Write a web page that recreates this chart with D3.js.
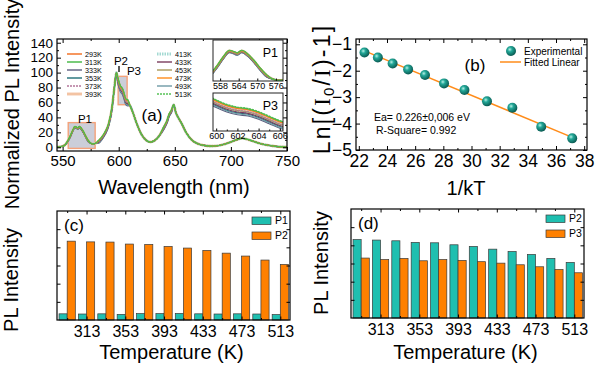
<!DOCTYPE html>
<html><head><meta charset="utf-8">
<script src="https://cdn.jsdelivr.net/npm/d3@7"></script>
<style>
body{margin:0;background:#fff}
svg{display:block}
text{font-family:"Liberation Sans",Arial,sans-serif;fill:#000}
</style>
</head><body>
<svg id="chart" width="600" height="368"></svg>
<script>
// ---------------- DATA ----------------
// Panel (a): normalized PL spectra
const wavelengths = [545,549,552,555,557,559,561,562.5,563.5,565,567,569,571,573,575,577,579,582,585,588,591,594,596,598,599,600,601,602,603,604,605,606,607,608,610,613,616,620,624,628,632,636,640,643,645,647,649,651,653,656,660,665,670,676,682,688,694,700,705,710,715,720,726,732,740,750];
const s293 = [0.3,1,3, 9.8,15.8,22.8,27.8,26.8,25.8,27.8,24.8,19.8,13.8,8.8, 5.5,4.5,5, 8.5,13.5,20.5,31.5,53.5, 78,100, 94,88,83,80,78.5,75,70,65,63,62.5, 56,45,32,18,10,7,9,15, 26.5,35.5,44.5,49.5, 57,46,40,32,20,10,5,2.5,1.5,2,4,7,10,12,10.5,8,5,3,1.2,0.3];
const s313 = [0.3,1,3, 10,16,23,28,27,26,28,25,20,14,9, 5.5,4.5,5, 9,14,21,32,54, 78,100, 95,89,84,81,79.5,76,71,66,64,63.5, 56,45,32,18,10,7,9,15, 27,36,45,50, 57,46,40,32,20,10,5,2.5,1.5,2,4,7,10,12,10.5,8,5,3,1.2,0.3];
const s333 = [0.3,1,3, 8,14,21,26,25,24,26,23,18,12,7, 5.5,4.5,5, 5,10,17,28,50, 78,100, 87,81,76,73,71.5,68,63,58,56,55.5, 56,45,32,18,10,7,9,15, 23,32,41,46, 57,46,40,32,20,10,5,2.5,1.5,2,4,7,10,12,10.5,8,5,3,1.2,0.3];
const s353 = [0.3,1,3, 8.5,14.5,21.5,26.5,25.5,24.5,26.5,23.5,18.5,12.5,7.5, 5.5,4.5,5, 6,11,18,29,51, 78,100, 89,83,78,75,73.5,70,65,60,58,57.5, 56,45,32,18,10,7,9,15, 24,33,42,47, 57,46,40,32,20,10,5,2.5,1.5,2,4,7,10,12,10.5,8,5,3,1.2,0.3];
const s373 = [0.3,1,3, 9.3,15.3,22.3,27.3,26.3,25.3,27.3,24.3,19.3,13.3,8.3, 5.5,4.5,5, 7.5,12.5,19.5,30.5,52.5, 78,100, 92,86,81,78,76.5,73,68,63,61,60.5, 56,45,32,18,10,7,9,15, 25.5,34.5,43.5,48.5, 57,46,40,32,20,10,5,2.5,1.5,2,4,7,10,12,10.5,8,5,3,1.2,0.3];
const s393 = [0.3,1,3, 9.5,15.5,22.5,27.5,26.5,25.5,27.5,24.5,19.5,13.5,8.5, 5.5,4.5,5, 8,13,20,31,53, 78,100, 93,87,82,79,77.5,74,69,64,62,61.5, 56,45,32,18,10,7,9,15, 26,35,44,49, 57,46,40,32,20,10,5,2.5,1.5,2,4,7,10,12,10.5,8,5,3,1.2,0.3];
const s413 = [0.3,1,3, 9,15,22,27,26,25,27,24,19,13,8, 5.5,4.5,5, 7,12,19,30,52, 78,100, 91,85,80,77,75.5,72,67,62,60,59.5, 56,45,32,18,10,7,9,15, 25,34,43,48, 57,46,40,32,20,10,5,2.5,1.5,2,4,7,10,12,10.5,8,5,3,1.2,0.3];
const s433 = [0.3,1,3, 8.7,14.7,21.7,26.7,25.7,24.7,26.7,23.7,18.7,12.7,7.7, 5.5,4.5,5, 6.5,11.5,18.5,29.5,51.5, 78,100, 90,84,79,76,74.5,71,66,61,59,58.5, 56,45,32,18,10,7,9,15, 24.5,33.5,42.5,47.5, 57,46,40,32,20,10,5,2.5,1.5,2,4,7,10,12,10.5,8,5,3,1.2,0.3];
const s453 = [0.3,1,3, 8.8,14.8,21.8,26.8,25.8,24.8,26.8,23.8,18.8,12.8,7.8, 5.5,4.5,5, 7.5,12.5,19.5,30.5,52.5, 78,100, 91.5,85.5,80.5,77.5,76,72.5,67.5,62.5,60.5,60, 56,45,32,18,10,7,9,15, 25.5,34.5,43.5,48.5, 57,46,40,32,20,10,5,2.5,1.5,2,4,7,10,12,10.5,8,5,3,1.2,0.3];
const s473 = [0.3,1,3, 9.6,15.6,22.6,27.6,26.6,25.6,27.6,24.6,19.6,13.6,8.6, 5.5,4.5,5, 8.5,13.5,20.5,31.5,53.5, 78,100, 94.5,88.5,83.5,80.5,79,75.5,70.5,65.5,63.5,63, 56,45,32,18,10,7,9,15, 26.5,35.5,44.5,49.5, 57,46,40,32,20,10,5,2.5,1.5,2,4,7,10,12,10.5,8,5,3,1.2,0.3];
const s493 = [0.3,1,3, 8.2,14.2,21.2,26.2,25.2,24.2,26.2,23.2,18.2,12.2,7.2, 5.5,4.5,5, 5.5,10.5,17.5,28.5,50.5, 78,100, 88,82,77,74,72.5,69,64,59,57,56.5, 56,45,32,18,10,7,9,15, 23.5,32.5,41.5,46.5, 57,46,40,32,20,10,5,2.5,1.5,2,4,7,10,12,10.5,8,5,3,1.2,0.3];
const s513 = [0.3,1,3, 9.9,15.9,22.9,27.9,26.9,25.9,27.9,24.9,19.9,13.9,8.9, 5.5,4.5,5, 9,14,21,32,54, 78,100, 95.5,89.5,84.5,81.5,80,76.5,71.5,66.5,64.5,64, 56,45,32,18,10,7,9,15, 27,36,45,50, 57,46,40,32,20,10,5,2.5,1.5,2,4,7,10,12,10.5,8,5,3,1.2,0.3];
const seriesLabels = ["293K","313K","333K","353K","373K","393K","413K","433K","453K","473K","493K","513K"];
const spectra = [s293,s313,s333,s353,s373,s393,s413,s433,s453,s473,s493,s513];
const xTicksA = [550,600,650,700,750];
const yTicksA = [0,20,40,60,80,100,120,140];
const insetP1Ticks = [558,564,570,576];
const insetP3Ticks = [600,602,604,606];

// Panel (b): Arrhenius plot
const invKT = [22.4,23.35,24.4,25.5,26.7,28.05,29.5,31.1,32.9,34.95,37.15];
const lnRatio = [-1.31,-1.5,-1.73,-1.95,-2.16,-2.48,-2.73,-3.16,-3.4,-4.12,-4.56];
const fitX = [22.4,37.2];
const fitY = [-1.25,-4.53];
const xTicksB = [22,24,26,28,30,32,34,36,38];
const yTicksB = [-1,-2,-3,-4,-5];

// Panels (c),(d): integrated PL intensity vs temperature
const temperatures = [293,313,333,353,373,393,413,433,453,473,493,513];
const tempTickLabels = [313,353,393,433,473,513];
const intP1 = [0.34,0.33,0.34,0.31,0.35,0.35,0.36,0.34,0.33,0.34,0.33,0.30];
const intP2c = [4.34,4.30,4.29,4.18,4.16,4.05,3.96,3.83,3.68,3.52,3.30,3.06];
const intP2d = [4.32,4.29,4.25,4.16,4.14,4.03,3.94,3.79,3.66,3.50,3.28,3.06];
const intP3 = [3.30,3.22,3.28,3.15,3.22,3.17,3.10,3.02,2.93,2.82,2.67,2.49];

// ---------------- STYLE ----------------
const seriesStyle = [
  {c:"#f26a1b",w:1.1,d:null},
  {c:"#4cbb4c",w:1.2,d:null},
  {c:"#5c5c7e",w:1.1,d:null},
  {c:"#1f6f78",w:1.1,d:null},
  {c:"#b4769a",w:1.1,d:"2,1"},
  {c:"#f3c3a3",w:2.6,d:null},
  {c:"#a3d9d2",w:2.6,d:"1.5,1"},
  {c:"#7a3b5c",w:1.1,d:null},
  {c:"#a8985a",w:1.1,d:null},
  {c:"#ff8c1a",w:1.1,d:null},
  {c:"#6e9aa5",w:1.1,d:null},
  {c:"#57c257",w:1.2,d:"2,1"}
];
const drawOrder = [5,6,2,3,10,7,8,4,0,9,11,1];
const CYAN = "#1fbfb0", ORANGE = "#ff8000";

const svg = d3.select("#chart");
const defs = svg.append("defs");

function styleAxis(g, fs){
  g.select(".domain").remove();
  g.selectAll(".tick line").attr("stroke","#000").attr("stroke-width",1);
  g.selectAll(".tick text").attr("font-size",fs).attr("fill","#000")
    .style("font-family",'"Liberation Sans",Arial,sans-serif');
}
// draws mirrored inward ticks on the four sides of a frame
function frameAxes(g, xs, ys, o){
  const [x0,x1] = xs.range(), [y0,y1] = ys.range(); // y0 bottom, y1 top
  g.append("g").attr("transform",`translate(0,${y0})`)
    .call(d3.axisBottom(xs).tickValues(o.xMajor).tickSizeInner(-o.L).tickSizeOuter(0).tickPadding(o.xPad).tickFormat(o.xFmt||d3.format("d")))
    .call(a=>styleAxis(a,o.xFs));
  if(o.xMinor) g.append("g").attr("transform",`translate(0,${y0})`)
    .call(d3.axisBottom(xs).tickValues(o.xMinor).tickSizeInner(-o.l).tickSizeOuter(0).tickFormat(""))
    .call(a=>styleAxis(a,o.xFs));
  g.append("g").attr("transform",`translate(0,${y1})`)
    .call(d3.axisTop(xs).tickValues(o.xMajor).tickSizeInner(-o.L).tickSizeOuter(0).tickFormat(""))
    .call(a=>styleAxis(a,o.xFs));
  if(o.xMinor) g.append("g").attr("transform",`translate(0,${y1})`)
    .call(d3.axisTop(xs).tickValues(o.xMinor).tickSizeInner(-o.l).tickSizeOuter(0).tickFormat(""))
    .call(a=>styleAxis(a,o.xFs));
  const la = d3.axisLeft(ys).tickValues(o.yMajor).tickSizeInner(-o.L).tickSizeOuter(0).tickPadding(o.yPad);
  if(o.yFmt) la.tickFormat(o.yFmt);
  g.append("g").attr("transform",`translate(${x0},0)`).call(la).call(a=>styleAxis(a,o.yFs));
  if(o.yMinor) g.append("g").attr("transform",`translate(${x0},0)`)
    .call(d3.axisLeft(ys).tickValues(o.yMinor).tickSizeInner(-o.l).tickSizeOuter(0).tickFormat(""))
    .call(a=>styleAxis(a,o.yFs));
  g.append("g").attr("transform",`translate(${x1},0)`)
    .call(d3.axisRight(ys).tickValues(o.yMajor).tickSizeInner(-o.L).tickSizeOuter(0).tickFormat(""))
    .call(a=>styleAxis(a,o.yFs));
  if(o.yMinor) g.append("g").attr("transform",`translate(${x1},0)`)
    .call(d3.axisRight(ys).tickValues(o.yMinor).tickSizeInner(-o.l).tickSizeOuter(0).tickFormat(""))
    .call(a=>styleAxis(a,o.yFs));
  g.append("rect").attr("x",x0).attr("y",y1).attr("width",x1-x0).attr("height",y0-y1)
    .attr("fill","none").attr("stroke","#000").attr("stroke-width",1.2);
}
function rotLabel(x,y,txt,fs){
  return svg.append("text").attr("transform",`translate(${x},${y}) rotate(-90)`)
    .attr("text-anchor","middle").attr("font-size",fs).text(txt);
}

// ================= PANEL (a) =================
const xA = d3.scaleLinear([545,750],[57,287]);
const yA = d3.scaleLinear([-5,145],[151,39]);
const gA = svg.append("g");
defs.append("clipPath").attr("id","clipA").append("rect")
  .attr("x",57).attr("y",39).attr("width",230).attr("height",112);

gA.append("rect").attr("x",xA(555)).attr("y",yA(33)).attr("width",xA(579)-xA(555)).attr("height",yA(-1.5)-yA(33))
  .attr("fill","#b9bdcc").attr("fill-opacity",0.75).attr("stroke","#f4a27a").attr("stroke-width",1.4);
gA.append("rect").attr("x",xA(599.5)).attr("y",yA(95)).attr("width",xA(607.5)-xA(599.5)).attr("height",yA(57)-yA(95))
  .attr("fill","#b9bdcc").attr("fill-opacity",0.75).attr("stroke","#f4a27a").attr("stroke-width",1.4);

function drawSpectra(g, xs, ys, clip){
  const line = d3.line().x((d,i)=>xs(wavelengths[i])).y(d=>ys(d)).curve(d3.curveMonotoneX);
  const cg = g.append("g").attr("clip-path",`url(#${clip})`);
  drawOrder.forEach(k=>{
    const st = seriesStyle[k];
    cg.append("path").attr("d",line(spectra[k])).attr("fill","none")
      .attr("stroke",st.c).attr("stroke-width",st.w).attr("stroke-dasharray",st.d);
  });
}
drawSpectra(gA, xA, yA, "clipA");

frameAxes(gA, xA, yA, {xMajor:xTicksA, xMinor:[575,625,675,725], yMajor:yTicksA, yMinor:[10,30,50,70,90,110,130],
  L:4, l:2, xPad:4, yPad:4, xFs:15, yFs:13.5});

// legend (a)
seriesLabels.forEach((lab,i)=>{
  const col = Math.floor(i/6), row = i%6;
  const lx = col===0?67:157, ty = 54 + row*8;
  const st = seriesStyle[i];
  gA.append("line").attr("x1",lx).attr("x2",lx+15).attr("y1",ty).attr("y2",ty)
    .attr("stroke",st.c).attr("stroke-width",st.w+0.3).attr("stroke-dasharray",st.d);
  gA.append("text").attr("x",lx+18).attr("y",ty+2.6).attr("font-size",7.2).text(lab);
});
gA.append("text").attr("x",85).attr("y",123).attr("text-anchor","middle").attr("font-size",11.5).text("P1");
gA.append("text").attr("x",121).attr("y",65).attr("text-anchor","middle").attr("font-size",11.5).text("P2");
gA.append("line").attr("x1",119).attr("x2",119).attr("y1",66).attr("y2",72).attr("stroke","#000").attr("stroke-width",1.3);
gA.append("text").attr("x",134).attr("y",75).attr("text-anchor","middle").attr("font-size",11.5).text("P3");
gA.append("text").attr("x",152).attr("y",121).attr("text-anchor","middle").attr("font-size",17).text("(a)");

// insets
function inset(id, xd, yd, box, ticks, minors, label, labY){
  const xs = d3.scaleLinear(xd,[box[0],box[1]]);
  const ys = d3.scaleLinear(yd,[box[3],box[2]]);
  const g = svg.append("g");
  g.append("rect").attr("x",box[0]).attr("y",box[2]).attr("width",box[1]-box[0]).attr("height",box[3]-box[2]).attr("fill","#fff");
  defs.append("clipPath").attr("id",id).append("rect")
    .attr("x",box[0]).attr("y",box[2]).attr("width",box[1]-box[0]).attr("height",box[3]-box[2]);
  drawSpectra(g, xs, ys, id);
  g.append("g").attr("transform",`translate(0,${box[3]})`)
    .call(d3.axisBottom(xs).tickValues(ticks).tickSizeInner(-2.5).tickSizeOuter(0).tickPadding(1.5).tickFormat(d3.format("d")))
    .call(a=>styleAxis(a,9));
  if(minors) g.append("g").attr("transform",`translate(0,${box[3]})`)
    .call(d3.axisBottom(xs).tickValues(minors).tickSizeInner(-1.5).tickSizeOuter(0).tickFormat(""))
    .call(a=>styleAxis(a,9));
  g.append("rect").attr("x",box[0]).attr("y",box[2]).attr("width",box[1]-box[0]).attr("height",box[3]-box[2])
    .attr("fill","none").attr("stroke","#222").attr("stroke-width",1);
  g.append("text").attr("x",box[1]-5).attr("y",labY).attr("text-anchor","end").attr("font-size",12.5).text(label);
}
inset("clipP1",[555.7,578.3],[4,36],[213,283,40,81],insetP1Ticks,null,"P1",57);
inset("clipP3",[599.7,606.3],[55,97],[213,283,93,131],insetP3Ticks,[601,603,605],"P3",110);

rotLabel(19,104,"Normalized PL Intensity",20);
svg.append("text").attr("x",174).attr("y",194).attr("text-anchor","middle").attr("font-size",20).text("Wavelength (nm)");

// ================= PANEL (b) =================
const xB = d3.scaleLinear([21.8,38.2],[356,587]);
const yB = d3.scaleLinear([-5,-0.8],[150,39]);
const gB = svg.append("g");
const grad = defs.append("radialGradient").attr("id","ball").attr("cx","38%").attr("cy","35%").attr("r","65%");
grad.append("stop").attr("offset","0%").attr("stop-color","#b8f0e6");
grad.append("stop").attr("offset","35%").attr("stop-color","#22a898");
grad.append("stop").attr("offset","100%").attr("stop-color","#0a5a52");

frameAxes(gB, xB, yB, {xMajor:xTicksB, xMinor:[23,25,27,29,31,33,35,37], yMajor:yTicksB, yMinor:[-1.5,-2.5,-3.5,-4.5],
  L:4, l:2, xPad:5, yPad:4, xFs:17.5, yFs:17.5, yFmt:d3.format("d")});
gB.append("path").attr("d",d3.line().x(d=>xB(d[0])).y(d=>yB(d[1]))(fitX.map((x,i)=>[x,fitY[i]])))
  .attr("stroke","#ff8c1a").attr("stroke-width",1.5).attr("fill","none");
gB.selectAll("circle.pt").data(invKT).join("circle").attr("class","pt")
  .attr("cx",d=>xB(d)).attr("cy",(d,i)=>yB(lnRatio[i])).attr("r",5).attr("fill","url(#ball)");
// legend (b)
gB.append("circle").attr("cx",511).attr("cy",51).attr("r",5).attr("fill","url(#ball)");
gB.append("text").attr("x",524).attr("y",55).attr("font-size",10).text("Experimental");
gB.append("line").attr("x1",500).attr("x2",521).attr("y1",62).attr("y2",62).attr("stroke","#ff8c1a").attr("stroke-width",1.5);
gB.append("text").attr("x",524).attr("y",66).attr("font-size",10).text("Fitted Linear");
gB.append("text").attr("x",475).attr("y",71).attr("text-anchor","middle").attr("font-size",17).text("(b)");
gB.append("text").attr("x",374).attr("y",121).attr("font-size",10.5).text("Ea= 0.226\u00b10,006 eV");
gB.append("text").attr("x",376).attr("y",134).attr("font-size",10.5).text("R-Square= 0.992");

const lnLab = svg.append("text").attr("transform","translate(330,89) rotate(-90)")
  .attr("text-anchor","middle").attr("font-size",23).attr("letter-spacing",2.2);
lnLab.append("tspan").text("Ln[(");
lnLab.append("tspan").style("font-family",'"Liberation Serif","Times New Roman",serif').text("I");
lnLab.append("tspan").attr("font-size",15).attr("dy",4).text("0");
lnLab.append("tspan").attr("dy",-4).text("/");
lnLab.append("tspan").style("font-family",'"Liberation Serif","Times New Roman",serif').text("I");
lnLab.append("tspan").text(")-1]");
svg.append("text").attr("x",466).attr("y",195).attr("text-anchor","middle").attr("font-size",20).text("1/kT");

// ================= PANELS (c) & (d) =================
function barPanel(box, s1, s2, c1, c2, names, tag){
  const xs = d3.scaleLinear([282.5,523],[box[0],box[1]]);
  const ys = d3.scaleLinear([0,6],[box[3],box[2]]);
  const g = svg.append("g");
  const bw = xs(8.4)-xs(0);
  g.selectAll("rect.b1").data(s1).join("rect").attr("class","b1")
    .attr("x",(d,i)=>xs(temperatures[i])-bw).attr("width",bw)
    .attr("y",d=>ys(d)).attr("height",d=>ys(0)-ys(d))
    .attr("fill",c1).attr("stroke","#3a3a3a").attr("stroke-width",0.7);
  g.selectAll("rect.b2").data(s2).join("rect").attr("class","b2")
    .attr("x",(d,i)=>xs(temperatures[i])).attr("width",bw)
    .attr("y",d=>ys(d)).attr("height",d=>ys(0)-ys(d))
    .attr("fill",c2).attr("stroke","#3a3a3a").attr("stroke-width",0.7);
  frameAxes(g, xs, ys, {xMajor:tempTickLabels, xMinor:temperatures.filter(t=>!tempTickLabels.includes(t)),
    yMajor:[1,2,3,4,5], L:3.5, l:2, xPad:5.5, yPad:4, xFs:16, yFs:16, yFmt:()=>""});
  const lx = box[1]-38;
  g.append("rect").attr("x",lx).attr("y",box[2]+6).attr("width",19).attr("height",7.5).attr("fill",c1).attr("stroke","#3a3a3a").attr("stroke-width",0.7);
  g.append("text").attr("x",lx+23).attr("y",box[2]+13).attr("font-size",10.5).text(names[0]);
  g.append("rect").attr("x",lx).attr("y",box[2]+21).attr("width",19).attr("height",7.5).attr("fill",c2).attr("stroke","#3a3a3a").attr("stroke-width",0.7);
  g.append("text").attr("x",lx+23).attr("y",box[2]+28).attr("font-size",10.5).text(names[1]);
  g.append("text").attr("x",box[0]+7).attr("y",box[2]+20).attr("font-size",17).text(tag);
  svg.append("text").attr("x",(box[0]+box[1])/2-2).attr("y",359).attr("text-anchor","middle").attr("font-size",20).text("Temperature (K)");
}
barPanel([57,290,211,320], intP1, intP2c, CYAN, ORANGE, ["P1","P2"], "(c)");
barPanel([351,584,209,318], intP2d, intP3, CYAN, ORANGE, ["P2","P3"], "(d)");
rotLabel(18,280,"PL Intensity",20);
rotLabel(328,263,"PL Intensity",20);
</script>
</body></html>
